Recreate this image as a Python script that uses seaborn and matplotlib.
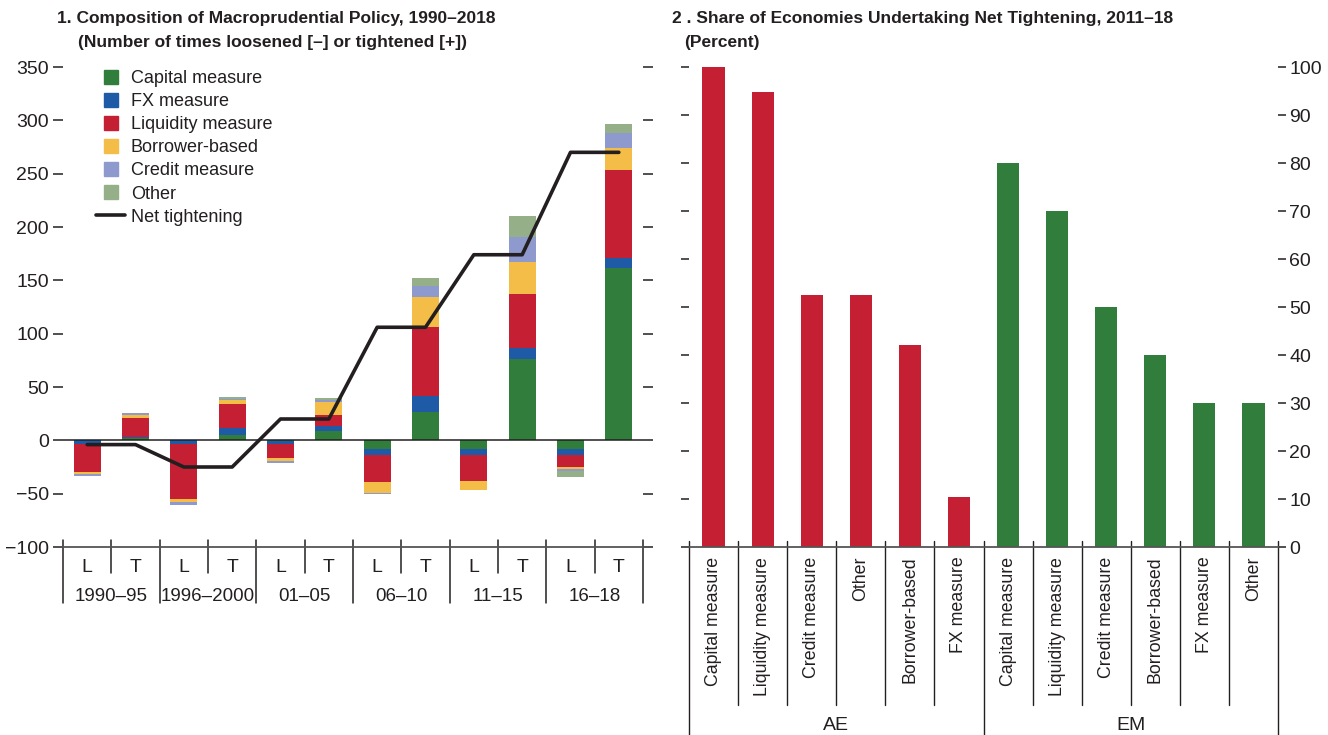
import matplotlib.pyplot as plt
import numpy as np
import pandas as pd
import seaborn as sns
from matplotlib.lines import Line2D

# Panel 1 data: number of times loosened (L, negative) or tightened (T, positive)
periods = ['1990–95', '1996–2000', '01–05', '06–10', '11–15', '16–18']
measures = ['Capital measure', 'FX measure', 'Liquidity measure',
            'Borrower-based', 'Credit measure', 'Other']

capital_L = [0, 0, -1, -8, -8, -8]
fx_L = [-3, -3, -2, -6, -6, -6]
liquidity_L = [-27, -52, -14, -25, -24, -11]
borrower_L = [-2, -3, -2.5, -10, -9, -2]
credit_L = [-1, -3, -1.5, -1, 0, -1.5]
other_L = [0, 0, 0, 0, 0, -6]

capital_T = [2, 5, 9, 27, 76, 162]
fx_T = [1, 7, 4, 15, 11, 9]
liquidity_T = [18, 22, 11, 64, 50, 82]
borrower_T = [3, 3.5, 12, 28, 30, 21]
credit_T = [1.5, 1, 2, 11, 24, 14]
other_T = [0, 2, 2, 7, 19, 8.5]

net_tightening = [-4, -25, 20, 106, 174, 270]

# Panel 2 data: share of economies undertaking net tightening, 2011-18
ae_labels = ['Capital measure', 'Liquidity measure', 'Credit measure', 'Other',
             'Borrower-based', 'FX measure']
ae_share = [100, 94.7, 52.6, 52.6, 42.1, 10.5]
em_labels = ['Capital measure', 'Liquidity measure', 'Credit measure',
             'Borrower-based', 'FX measure', 'Other']
em_share = [80, 70, 50, 40, 30, 30]

colors = ['#317D3C', '#1F5AA6', '#C41F33', '#F4BD48', '#8E99CD', '#95AF89']
ink = '#231F20'

sns.set_theme(style='white')
plt.rcParams['font.family'] = ['Liberation Sans Narrow', 'Liberation Sans', 'DejaVu Sans']
plt.rcParams['text.color'] = ink
plt.rcParams['axes.labelcolor'] = ink
plt.rcParams['xtick.color'] = ink
plt.rcParams['ytick.color'] = ink

fig = plt.figure(figsize=(13.28, 7.35), dpi=100)
ax1 = fig.add_axes([63 / 1328, 1 - 547 / 735, 580 / 1328, 480 / 735])
ax2 = fig.add_axes([689 / 1328, 1 - 547 / 735, 589 / 1328, 480 / 735])


def interleave(lo, ti):
    out = []
    for a, b in zip(lo, ti):
        out += [a, b]
    return out


layers = np.array([
    interleave(capital_L, capital_T),
    interleave(fx_L, fx_T),
    interleave(liquidity_L, liquidity_T),
    interleave(borrower_L, borrower_T),
    interleave(credit_L, credit_T),
    interleave(other_L, other_T),
])
cum = np.cumsum(layers, axis=0)
pos = np.arange(12)

# stacked bars drawn as overlays, outermost layer first
for k in range(5, -1, -1):
    sns.barplot(x=pos, y=cum[k], color=colors[k], saturation=1, width=0.56,
                linewidth=0, ax=ax1)

net_line = interleave(net_tightening, net_tightening)
sns.lineplot(x=pos, y=net_line, color=ink, linewidth=2.6, ax=ax1)

ax1.axhline(0, color=ink, lw=1.1, zorder=1)
ax1.set_ylim(-100, 350)
ax1.set_xlim(-0.5, 11.5)
ax1.set_yticks(range(-100, 351, 50))
ax1.set_xticks([])
ax1.set_xlabel('')
ax1.set_ylabel('')
ax1.tick_params(axis='y', left=True, right=True, labelleft=True, labelright=False,
                length=7, width=1.1, pad=3, labelsize=14, direction='out')
for s in ['top', 'left', 'right']:
    ax1.spines[s].set_visible(False)
ax1.spines['bottom'].set_color('#555555')
ax1.spines['bottom'].set_linewidth(1.3)

tr1 = ax1.get_xaxis_transform()
for i in range(13):
    x = i - 0.5
    bottom = -0.117 if i % 2 == 0 else -0.054
    ax1.plot([x, x], [0.015, bottom], color=ink, lw=1.1, transform=tr1, clip_on=False)
for i in range(12):
    ax1.text(i, -0.042, 'L' if i % 2 == 0 else 'T', transform=tr1,
             ha='center', va='center', fontsize=14)
for i, p in enumerate(periods):
    ax1.text(2 * i + 0.5, -0.104, p, transform=tr1, ha='center', va='center', fontsize=13.5)

handles = [Line2D([], [], marker='s', color=c, linestyle='none', markersize=10.5)
           for c in colors]
handles.append(Line2D([], [], color=ink, lw=2.6))
ax1.legend(handles, measures + ['Net tightening'], loc='upper left',
           bbox_to_anchor=(0.045, 1.009), frameon=False, fontsize=13,
           handlelength=1.6, handletextpad=0.3, labelspacing=0.34, borderaxespad=0)

# Panel 2
df2 = pd.DataFrame({
    'pos': np.arange(12),
    'share': ae_share + em_share,
    'group': ['AE'] * 6 + ['EM'] * 6,
})
sns.barplot(data=df2, x='pos', y='share', hue='group',
            palette={'AE': colors[2], 'EM': colors[0]}, saturation=1,
            dodge=False, width=0.45, linewidth=0, legend=False, ax=ax2)
ax2.set_ylim(0, 100)
ax2.set_xlim(-0.5, 11.5)
ax2.set_yticks(range(0, 101, 10))
ax2.set_xticks(range(12))
ax2.set_xticklabels(ae_labels + em_labels, rotation=90, va='top', fontsize=12.8)
ax2.set_xlabel('')
ax2.set_ylabel('')
ax2.tick_params(axis='x', length=0, pad=7)
ax2.tick_params(axis='y', left=True, right=True, labelleft=False, labelright=True,
                length=6, width=1.1, pad=2, labelsize=14, direction='out')
for s in ['top', 'left', 'right']:
    ax2.spines[s].set_visible(False)
ax2.spines['bottom'].set_color('#555555')
ax2.spines['bottom'].set_linewidth(1.3)

tr2 = ax2.get_xaxis_transform()
for i in range(13):
    x = i - 0.5
    bottom = -0.392 if i in (0, 6, 12) else -0.329
    ax2.plot([x, x], [0.012, bottom], color=ink, lw=1.0, transform=tr2, clip_on=False)
ax2.text(2.5, -0.371, 'AE', transform=tr2, ha='center', va='center', fontsize=14)
ax2.text(8.5, -0.371, 'EM', transform=tr2, ha='center', va='center', fontsize=14)

# titles
fig.text(57 / 1328, 1 - 18 / 735, '1. Composition of Macroprudential Policy, 1990–2018',
         fontsize=12.5, fontweight='bold', va='center', ha='left')
fig.text(78 / 1328, 1 - 42 / 735, '(Number of times loosened [–] or tightened [+])',
         fontsize=12.5, fontweight='bold', va='center', ha='left')
fig.text(672 / 1328, 1 - 18 / 735, '2 . Share of Economies Undertaking Net Tightening, 2011–18',
         fontsize=12.5, fontweight='bold', va='center', ha='left')
fig.text(684 / 1328, 1 - 42 / 735, '(Percent)',
         fontsize=12.5, fontweight='bold', va='center', ha='left')

fig.savefig('out.png', dpi=100)
